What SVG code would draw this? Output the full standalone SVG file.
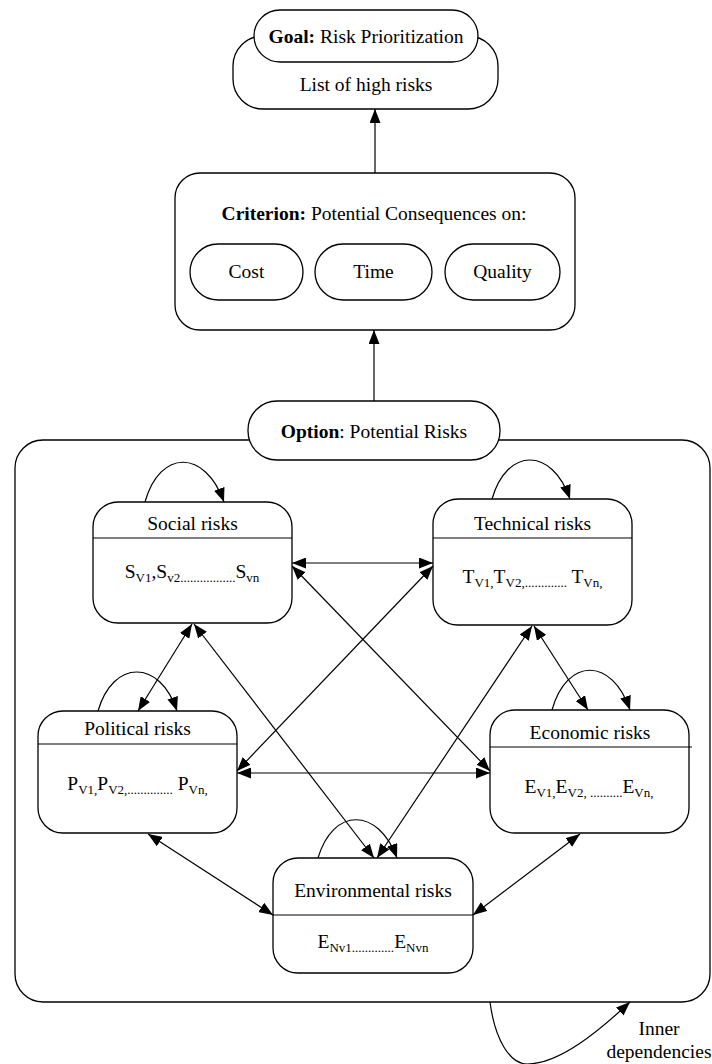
<svg xmlns="http://www.w3.org/2000/svg" width="712" height="1064" viewBox="0 0 712 1064">
  <style>
    .box { fill: #ffffff; stroke: #000000; stroke-width: 1.3; }
    .line { fill: none; stroke: #000000; stroke-width: 1.2; }
    text { font-family: "Liberation Serif", "Times New Roman", serif; font-size: 19.5px; fill: #000000; }
    .mid { text-anchor: middle; }
    .b { font-weight: bold; }
    .sub { font-size: 13px; }
  </style>
  <defs>
    <marker id="arrow" markerUnits="userSpaceOnUse" markerWidth="15" markerHeight="11" refX="14" refY="5.5" orient="auto-start-reverse">
      <path d="M0,0 L14,5.5 L0,11 z" fill="#000000"/>
    </marker>
  </defs>

  <rect width="712" height="1064" fill="#ffffff"/>

  <!-- Goal -->
  <g id="goal">
    <rect class="box" x="233" y="36" width="265" height="73" rx="30"/>
    <rect class="box" x="254" y="10" width="224" height="52" rx="26"/>
    <text class="mid" x="366" y="43"><tspan class="b">Goal:</tspan> Risk Prioritization</text>
    <text class="mid" x="366" y="91">List of high risks</text>
  </g>

  <!-- Criterion -->
  <g id="criterion">
    <rect class="box" x="175" y="173" width="400" height="157" rx="25"/>
    <text class="mid" x="374" y="220"><tspan class="b">Criterion:</tspan> Potential Consequences on:</text>
    <g id="cost">
      <rect class="box" x="190" y="244" width="113" height="56" rx="28"/>
      <text class="mid" x="246.5" y="278">Cost</text>
    </g>
    <g id="time">
      <rect class="box" x="315" y="244" width="117" height="56" rx="28"/>
      <text class="mid" x="373.5" y="278">Time</text>
    </g>
    <g id="quality">
      <rect class="box" x="445" y="244" width="115" height="56" rx="28"/>
      <text class="mid" x="502.5" y="278">Quality</text>
    </g>
  </g>

  <!-- Option container -->
  <g id="option">
    <rect class="box" x="15" y="440" width="695" height="562" rx="28"/>
    <rect class="box" x="248" y="401" width="252" height="59" rx="29"/>
    <text class="mid" x="374" y="438"><tspan class="b">Option</tspan>: Potential Risks</text>
  </g>

  <!-- Risk categories -->
  <g id="social">
    <rect class="box" x="93" y="502" width="199" height="121" rx="25"/>
    <line class="line" x1="93" y1="538" x2="292" y2="538"/>
    <text class="mid" x="192.5" y="530">Social risks</text>
    <text class="mid" x="192" y="578">S<tspan class="sub" dy="4">V1</tspan><tspan dy="-4">,S</tspan><tspan class="sub" dy="4">v2.................</tspan><tspan dy="-4">S</tspan><tspan class="sub" dy="4">vn</tspan></text>
  </g>

  <g id="technical">
    <rect class="box" x="433" y="499" width="199" height="126" rx="25"/>
    <line class="line" x1="433" y1="538" x2="632" y2="538"/>
    <text class="mid" x="532.5" y="530">Technical risks</text>
    <text class="mid" x="532.5" y="583">T<tspan class="sub" dy="4">V1,</tspan><tspan dy="-4">T</tspan><tspan class="sub" dy="4">V2,.............</tspan><tspan dy="-4"> T</tspan><tspan class="sub" dy="4">Vn,</tspan></text>
  </g>

  <g id="political">
    <rect class="box" x="38" y="711" width="199" height="122" rx="25"/>
    <line class="line" x1="38" y1="744" x2="237" y2="744"/>
    <text class="mid" x="137.5" y="735">Political risks</text>
    <text class="mid" x="137.5" y="790">P<tspan class="sub" dy="4">V1,</tspan><tspan dy="-4">P</tspan><tspan class="sub" dy="4">V2,..............</tspan><tspan dy="-4"> P</tspan><tspan class="sub" dy="4">Vn,</tspan></text>
  </g>

  <g id="economic">
    <rect class="box" x="490" y="710" width="199" height="123" rx="25"/>
    <line class="line" x1="490" y1="747" x2="692" y2="747"/>
    <text class="mid" x="590" y="739">Economic risks</text>
    <text class="mid" x="589" y="793">E<tspan class="sub" dy="4">V1,</tspan><tspan dy="-4">E</tspan><tspan class="sub" dy="4">V2, ..........</tspan><tspan dy="-4">E</tspan><tspan class="sub" dy="4">Vn,</tspan></text>
  </g>

  <g id="environmental">
    <rect class="box" x="273" y="858" width="200" height="115" rx="25"/>
    <line class="line" x1="273" y1="915" x2="473" y2="915"/>
    <text class="mid" x="373" y="897">Environmental risks</text>
    <text class="mid" x="373" y="948">E<tspan class="sub" dy="4">Nv1.............</tspan><tspan dy="-4">E</tspan><tspan class="sub" dy="4">Nvn</tspan></text>
  </g>

  <!-- Connectors -->
  <g id="connectors">
    <!-- hierarchy -->
    <line class="line" x1="375" y1="173" x2="375" y2="109" marker-end="url(#arrow)"/>
    <line class="line" x1="374" y1="401" x2="374" y2="330" marker-end="url(#arrow)"/>

    <!-- mutual dependencies between risk categories -->
    <line class="line" x1="292" y1="563" x2="433" y2="563" marker-start="url(#arrow)" marker-end="url(#arrow)"/>
    <line class="line" x1="292" y1="566" x2="490" y2="771" marker-start="url(#arrow)" marker-end="url(#arrow)"/>
    <line class="line" x1="433" y1="566" x2="237" y2="771" marker-start="url(#arrow)" marker-end="url(#arrow)"/>
    <line class="line" x1="237" y1="773" x2="490" y2="773" marker-start="url(#arrow)" marker-end="url(#arrow)"/>
    <line class="line" x1="192" y1="624" x2="138" y2="711" marker-start="url(#arrow)" marker-end="url(#arrow)"/>
    <line class="line" x1="194" y1="624" x2="374" y2="858" marker-start="url(#arrow)" marker-end="url(#arrow)"/>
    <line class="line" x1="534" y1="626" x2="588" y2="710" marker-start="url(#arrow)" marker-end="url(#arrow)"/>
    <line class="line" x1="532" y1="626" x2="377" y2="858" marker-start="url(#arrow)" marker-end="url(#arrow)"/>
    <line class="line" x1="148" y1="834" x2="273" y2="915" marker-start="url(#arrow)" marker-end="url(#arrow)"/>
    <line class="line" x1="580" y1="834" x2="473" y2="915" marker-start="url(#arrow)" marker-end="url(#arrow)"/>

    <!-- self loops -->
    <path class="line" d="M145,502 C160,449 205,449 224,502" marker-end="url(#arrow)"/>
    <path class="line" d="M492,499 C507,447 552,447 570,499" marker-end="url(#arrow)"/>
    <path class="line" d="M98,711 C113,659 160,659 177,711" marker-end="url(#arrow)"/>
    <path class="line" d="M552,710 C567,657 612,657 630,710" marker-end="url(#arrow)"/>
    <path class="line" d="M318,858 C333,807 378,807 397,858" marker-end="url(#arrow)"/>

    <!-- inner dependencies loop -->
    <path class="line" d="M490,1002 C495,1040 510,1064 527,1064 C560,1064 600,1030 630,1002" marker-end="url(#arrow)"/>
  </g>

  <text class="mid" x="659" y="1035">Inner</text>
  <text class="mid" x="659" y="1058">dependencies</text>
</svg>
